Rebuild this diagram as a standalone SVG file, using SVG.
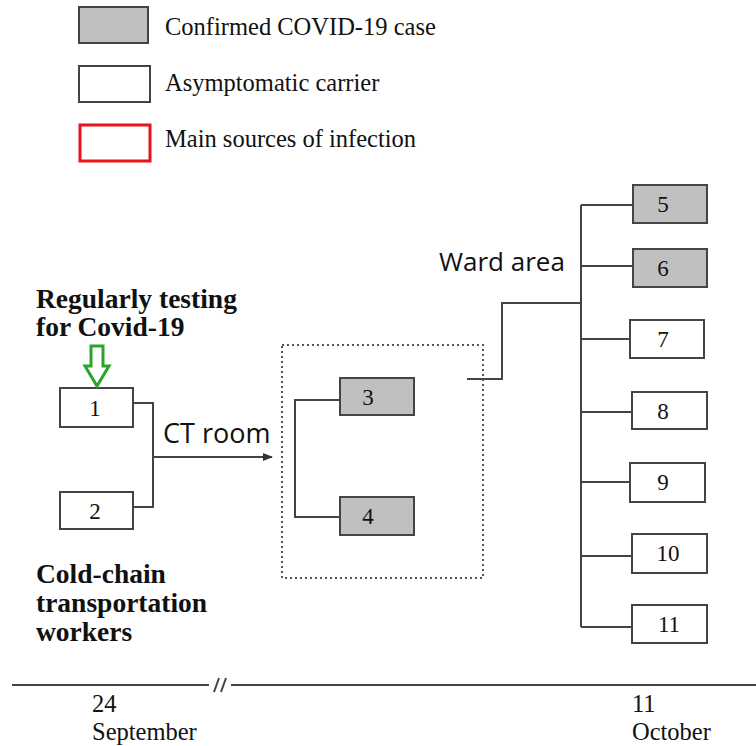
<svg xmlns="http://www.w3.org/2000/svg" width="756" height="746" viewBox="0 0 756 746">
<defs>
<style>
.box{fill:#fff;stroke:#444;stroke-width:2}
.conf{fill:#c0c0c0;stroke:#444;stroke-width:2}
.src{fill:#fff;stroke:#e8141c;stroke-width:3}
.num{font-family:"Liberation Serif",serif;font-size:23px;fill:#111;text-anchor:middle}
.leg{font-family:"Liberation Serif",serif;font-size:24.5px;fill:#111}
.bold{font-family:"Liberation Serif",serif;font-size:27.5px;font-weight:bold;fill:#111}
.sans{font-family:"Open Sans","Noto Sans",sans-serif;fill:#111}
.line{fill:none;stroke:#444;stroke-width:2}
.date{font-family:"Liberation Serif",serif;font-size:24.5px;fill:#111}
</style>
<marker id="arr" viewBox="0 0 10 10" refX="9" refY="5" markerWidth="10" markerHeight="10" markerUnits="userSpaceOnUse" orient="auto">
<path d="M0,1 L10,5 L0,9 z" fill="#333"/>
</marker>
</defs>
<rect width="756" height="746" fill="#fff"/>
<g id="legend">
<rect class="conf" x="79" y="7" width="69" height="36"/>
<text class="leg" x="165" y="35">Confirmed COVID-19 case</text>
<rect class="box" x="79" y="66" width="71" height="36"/>
<text class="leg" x="165" y="91">Asymptomatic carrier</text>
<rect class="src" x="80" y="125" width="70" height="36"/>
<text class="leg" x="165" y="147">Main sources of infection</text>
</g>
<g id="connectors">
<polyline class="line" points="133,403 153,403 153,507 133,507"/>
<line class="line" x1="153" y1="457" x2="272" y2="457" marker-end="url(#arr)"/>
<polyline class="line" points="340,400 295,400 295,517 340,517"/>
<polyline class="line" points="467,379 502,379 502,303 581,303"/>
<line class="line" x1="581" y1="205" x2="581" y2="627"/>
<line class="line" x1="581" y1="205" x2="633" y2="205"/>
<line class="line" x1="581" y1="266" x2="633" y2="266"/>
<line class="line" x1="581" y1="339" x2="630" y2="339"/>
<line class="line" x1="581" y1="412" x2="632" y2="412"/>
<line class="line" x1="581" y1="482" x2="630" y2="482"/>
<line class="line" x1="581" y1="556" x2="632" y2="556"/>
<line class="line" x1="581" y1="627" x2="632" y2="627"/>
</g>
<g id="ct-room-area">
<rect x="282" y="345" width="201" height="233" fill="none" stroke="#555" stroke-width="2" stroke-dasharray="2,3"/>
<text class="sans" x="163" y="443" font-size="27">CT room</text>
</g>
<g id="ward-label"><text class="sans" x="439" y="271" font-size="26">Ward area</text></g>
<g id="node1"><rect class="box" x="60" y="388" width="73" height="39"/><text class="num" x="95" y="416">1</text></g>
<g id="node2"><rect class="box" x="60" y="492" width="73" height="37"/><text class="num" x="95" y="519">2</text></g>
<g id="node3"><rect class="conf" x="340" y="378" width="74" height="37"/><text class="num" x="368" y="405">3</text></g>
<g id="node4"><rect class="conf" x="340" y="497" width="74" height="38"/><text class="num" x="368" y="524">4</text></g>
<g id="node5"><rect class="conf" x="633" y="185" width="74" height="38"/><text class="num" x="663" y="212">5</text></g>
<g id="node6"><rect class="conf" x="633" y="249" width="74" height="38"/><text class="num" x="663" y="276">6</text></g>
<g id="node7"><rect class="box" x="630" y="320" width="74" height="38"/><text class="num" x="663" y="347">7</text></g>
<g id="node8"><rect class="box" x="632" y="392" width="75" height="37"/><text class="num" x="663" y="419">8</text></g>
<g id="node9"><rect class="box" x="630" y="463" width="75" height="39"/><text class="num" x="663" y="490">9</text></g>
<g id="node10"><rect class="box" x="632" y="534" width="75" height="39"/><text class="num" x="668" y="561">10</text></g>
<g id="node11"><rect class="box" x="632" y="605" width="75" height="38"/><text class="num" x="669" y="632">11</text></g>
<g id="testing-label">
<text class="bold" x="36" y="308">Regularly testing</text>
<text class="bold" x="36" y="336">for Covid-19</text>
<path d="M91,346 L103,346 L103,366 L109,366 L97,386 L85,366 L91,366 Z" fill="#fff" stroke="#2aa52a" stroke-width="3" stroke-linejoin="miter"/>
</g>
<g id="workers-label">
<text class="bold" x="36" y="583">Cold-chain</text>
<text class="bold" x="36" y="612">transportation</text>
<text class="bold" x="36" y="641">workers</text>
</g>
<g id="timeline">
<line class="line" x1="12" y1="685" x2="209" y2="685"/>
<line class="line" x1="231" y1="685" x2="756" y2="685"/>
<line class="line" x1="214" y1="692" x2="219" y2="678"/>
<line class="line" x1="221" y1="692" x2="226" y2="678"/>
<text class="date" x="92" y="712">24</text>
<text class="date" x="92" y="740">September</text>
<text class="date" x="632" y="712">11</text>
<text class="date" x="632" y="740">October</text>
</g>
</svg>
